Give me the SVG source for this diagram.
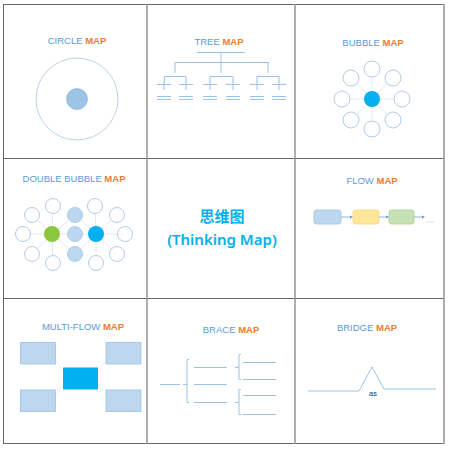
<svg xmlns="http://www.w3.org/2000/svg" width="450" height="450" viewBox="0 0 450 450">
<style>
.t{font-family:"Liberation Sans",Arial,sans-serif;font-size:9.5px;text-anchor:middle;fill:#5b9bd5}
.o{fill:#ed7d31;font-weight:bold}
.ln{stroke:#9dc3e6;stroke-width:1;fill:none}
.fl{stroke:#d6e4f2;stroke-width:0.8;fill:none}
.ob{fill:#fff;stroke:#a9c6e4;stroke-width:0.9}
.bx{fill:#bdd7ee;stroke:#9dc3e6;stroke-width:0.8}
.grid{stroke:#666;stroke-width:1}
.gv{stroke:#999;stroke-width:1.6}
</style>
<rect width="450" height="450" fill="#fff"/>
<g id="grid">
<line class="grid" x1="3" y1="4.5" x2="444" y2="4.5"/>
<line class="grid" x1="3" y1="158.5" x2="444" y2="158.5"/>
<line class="grid" x1="3" y1="298.5" x2="444" y2="298.5"/>
<line class="grid" x1="3" y1="443.5" x2="444" y2="443.5"/>
<line class="grid" x1="3.5" y1="4" x2="3.5" y2="444"/>
<line class="gv" x1="147" y1="4" x2="147" y2="444"/>
<line class="gv" x1="295" y1="4" x2="295" y2="444"/>
<line class="gv" x1="444" y1="4" x2="444" y2="444"/>
</g>

<g id="circle-map">
<text class="t" x="77" y="44">CIRCLE <tspan class="o">MAP</tspan></text>
<circle cx="77" cy="99" r="41" fill="none" stroke="#b4cde8" stroke-width="0.9"/>
<circle cx="77" cy="99" r="10.5" fill="#9dc3e6" stroke="#7fa9d8" stroke-width="0.6"/>
</g>

<g id="tree-map">
<text class="t" x="219" y="45">TREE <tspan class="o">MAP</tspan></text>
<path class="ln" d="M197 52.5H245M221 52.5V62.5M175 62.5H269M175 62.5V73M221 62.5V73M268 62.5V73
M164.5 76.5H186M210 76.5H233M257 76.5H279M164.5 76.5V82M186 76.5V82M210 76.5V82M233 76.5V82M257 76.5V82M279 76.5V82"/>
<path class="ln" stroke-width="0.8" d="M157 84.5H171M164 81V90M157 96.5H171M157 99.5H171
M179 84.5H193M186 81V90M179 96.5H193M179 99.5H193
M203 84.5H217M210 81V90M203 96.5H217M203 99.5H217
M226 84.5H240M233 81V90M226 96.5H240M226 99.5H240
M250 84.5H264M257 81V90M250 96.5H264M250 99.5H264
M272 84.5H286M279 81V90M272 96.5H286M272 99.5H286"/>
</g>

<g id="bubble-map">
<text class="t" x="373" y="46">BUBBLE <tspan class="o">MAP</tspan></text>
<g class="fl">
<line x1="372" y1="99" x2="372" y2="69"/>
<line x1="372" y1="99" x2="393" y2="78"/>
<line x1="372" y1="99" x2="402" y2="99"/>
<line x1="372" y1="99" x2="393" y2="120"/>
<line x1="372" y1="99" x2="372" y2="129"/>
<line x1="372" y1="99" x2="351" y2="120"/>
<line x1="372" y1="99" x2="342" y2="99"/>
<line x1="372" y1="99" x2="351" y2="78"/>
</g>
<circle class="ob" cx="372" cy="69" r="8"/>
<circle class="ob" cx="393" cy="78" r="8"/>
<circle class="ob" cx="402" cy="99" r="8"/>
<circle class="ob" cx="393" cy="120" r="8"/>
<circle class="ob" cx="372" cy="129" r="8"/>
<circle class="ob" cx="351" cy="120" r="8"/>
<circle class="ob" cx="342" cy="99" r="8"/>
<circle class="ob" cx="351" cy="78" r="8"/>
<circle cx="372" cy="99" r="8" fill="#00b0f0"/>
</g>

<g id="double-bubble-map">
<text class="t" x="74" y="182">DOUBLE BUBBLE <tspan class="o">MAP</tspan></text>
<g class="fl">
<line x1="52" y1="234" x2="53" y2="206"/>
<line x1="52" y1="234" x2="32" y2="215"/>
<line x1="52" y1="234" x2="23" y2="234"/>
<line x1="52" y1="234" x2="32" y2="254"/>
<line x1="52" y1="234" x2="53" y2="263"/>
<line x1="52" y1="234" x2="75" y2="215"/>
<line x1="52" y1="234" x2="75" y2="254"/>
<line x1="52" y1="234" x2="96" y2="234"/>
<line x1="96" y1="234" x2="95" y2="206"/>
<line x1="96" y1="234" x2="117" y2="215"/>
<line x1="96" y1="234" x2="125" y2="234"/>
<line x1="96" y1="234" x2="117" y2="254"/>
<line x1="96" y1="234" x2="96" y2="263"/>
<line x1="96" y1="234" x2="75" y2="215"/>
<line x1="96" y1="234" x2="75" y2="254"/>
</g>
<circle class="ob" cx="53" cy="206" r="7.5"/>
<circle class="ob" cx="32" cy="215" r="7.5"/>
<circle class="ob" cx="23" cy="234" r="7.5"/>
<circle class="ob" cx="32" cy="254" r="7.5"/>
<circle class="ob" cx="53" cy="263" r="7.5"/>
<circle class="ob" cx="95" cy="206" r="7.5"/>
<circle class="ob" cx="117" cy="215" r="7.5"/>
<circle class="ob" cx="125" cy="234" r="7.5"/>
<circle class="ob" cx="117" cy="254" r="7.5"/>
<circle class="ob" cx="96" cy="263" r="7.5"/>
<circle cx="75" cy="215" r="7.5" fill="#bdd7ee" stroke="#9dc3e6" stroke-width="0.8"/>
<circle cx="75" cy="234" r="7.5" fill="#bdd7ee" stroke="#9dc3e6" stroke-width="0.8"/>
<circle cx="75" cy="254" r="7.5" fill="#bdd7ee" stroke="#9dc3e6" stroke-width="0.8"/>
<circle cx="52" cy="234" r="8" fill="#8dc63f"/>
<circle cx="96" cy="234" r="8" fill="#00b0f0"/>
</g>

<g id="title">
<text x="222" y="222" font-family="'Noto Sans CJK SC',sans-serif" font-size="15" font-weight="bold" text-anchor="middle" fill="#00b0f0">思维图</text>
<text x="222" y="245" font-family="'Noto Sans','Noto Sans CJK SC',sans-serif" font-size="15" font-weight="600" text-anchor="middle" fill="#00b0f0">(Thinking Map)</text>
</g>

<g id="flow-map">
<text class="t" x="372" y="184">FLOW <tspan class="o">MAP</tspan></text>
<rect x="314" y="210" width="27" height="14" rx="2.5" class="bx"/>
<rect x="353" y="210" width="26" height="14" rx="2.5" fill="#ffe699" stroke="#f5d77a" stroke-width="0.8"/>
<rect x="389" y="210" width="25" height="14" rx="2.5" fill="#c5e0b4" stroke="#a9d18e" stroke-width="0.8"/>
<g stroke="#5b9bd5" stroke-width="0.7" fill="#5b9bd5">
<line x1="341" y1="217" x2="351" y2="217"/>
<path d="M353 217l-3 -1.5v3z" stroke="none"/>
<line x1="379" y1="217" x2="387" y2="217"/>
<path d="M389 217l-3 -1.5v3z" stroke="none"/>
<line x1="414" y1="217" x2="423" y2="217"/>
<path d="M425 217l-3 -1.5v3z" stroke="none"/>
</g>
<line x1="426" y1="222" x2="434" y2="222" stroke="#ccc" stroke-width="0.6"/>
</g>

<g id="multi-flow-map">
<text class="t" x="83" y="330">MULTI-FLOW <tspan class="o">MAP</tspan></text>
<g stroke="#e3ecf5" stroke-width="0.7">
<line x1="56" y1="360" x2="63" y2="372"/>
<line x1="56" y1="394" x2="63" y2="385"/>
<line x1="106" y1="360" x2="98" y2="372"/>
<line x1="106" y1="394" x2="98" y2="385"/>
</g>
<rect x="20.5" y="342.5" width="35" height="21.5" class="bx"/>
<rect x="20.5" y="390" width="35" height="21.5" class="bx"/>
<rect x="106" y="342.5" width="35" height="21.5" class="bx"/>
<rect x="106" y="390" width="35" height="21.5" class="bx"/>
<rect x="63" y="367.5" width="35" height="22" fill="#00b0f0"/>
</g>

<g id="brace-map">
<text class="t" x="231" y="333">BRACE <tspan class="o">MAP</tspan></text>
<path class="ln" d="M160 384.5H180M183 384.5H187M189 359.5H187V402.5H189
M194 367.5H227M194 384.5H227M194 402.5H227
M235 367.5H239M241 354.5H239V379.5H241M243 362.5H276M243 379.5H276
M235 402.5H239M241 389.5H239V414.5H241M243 395.5H276M243 414.5H276"/>
</g>

<g id="bridge-map">
<text class="t" x="367" y="331">BRIDGE <tspan class="o">MAP</tspan></text>
<path class="ln" d="M308 391H359L372 367L384 389H436"/>
<text x="373" y="396" font-family="'Liberation Sans',Arial,sans-serif" font-size="7.5" text-anchor="middle" fill="#333">as</text>
</g>
</svg>
